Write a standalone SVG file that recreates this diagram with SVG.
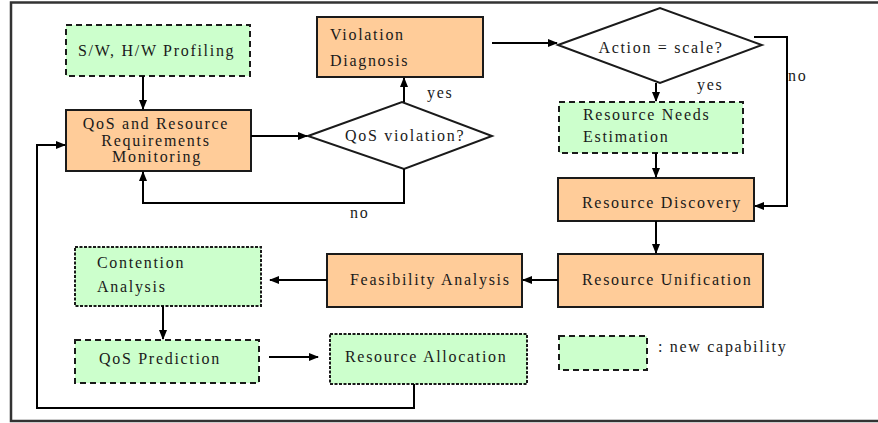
<svg xmlns="http://www.w3.org/2000/svg" width="878" height="423" viewBox="0 0 878 423">
<style>
text{font-family:"Liberation Serif","Times New Roman",serif;font-size:16px;fill:#1a1a1a;letter-spacing:1.7px}
.proc{fill:#ffcc99;stroke:#1a1a1a;stroke-width:2}
.new{fill:#ccffcc;stroke:#1a1a1a;stroke-width:2;stroke-dasharray:6,4}
.dot{fill:#ccffcc;stroke:#1a1a1a;stroke-width:2;stroke-dasharray:3,1.5}
.dec{fill:#fff;stroke:#1a1a1a;stroke-width:2}
.ln{fill:none;stroke:#000;stroke-width:2}
</style>
<defs>
<marker id="ah" markerWidth="10" markerHeight="8" refX="9" refY="4" orient="auto" markerUnits="userSpaceOnUse">
<path d="M0,0 L10,4 L0,8 z" fill="#000"/>
</marker>
</defs>
<rect width="878" height="423" fill="#fff"/>
<path d="M880 2.5 H11 V421 H880" fill="none" stroke="#333" stroke-width="2.5"/>

<g id="profiling">
<rect class="new" x="66" y="25" width="184" height="51"/>
<text x="78" y="56">S/W, H/W Profiling</text>
</g>
<g id="monitoring">
<rect class="proc" x="66" y="110" width="185" height="61"/>
<text x="156" y="129" text-anchor="middle">QoS and Resource</text>
<text x="156" y="146" text-anchor="middle">Requirements</text>
<text x="157" y="162" text-anchor="middle">Monitoring</text>
</g>
<g id="qos-violation">
<polygon class="dec" points="308,136 402,102 492,136 404,169"/>
<text x="345" y="141">QoS violation?</text>
</g>
<g id="violation-diagnosis">
<rect class="proc" x="317" y="17" width="166" height="60"/>
<text x="330" y="40">Violation</text>
<text x="330" y="66">Diagnosis</text>
</g>
<g id="action-scale">
<polygon class="dec" points="558,45 660,8 762,45 660,83"/>
<text x="661" y="53" text-anchor="middle">Action = scale?</text>
</g>
<g id="needs-estimation">
<rect class="new" x="559" y="102" width="184" height="51"/>
<text x="583" y="120">Resource Needs</text>
<text x="583" y="142">Estimation</text>
</g>
<g id="discovery">
<rect class="proc" x="558" y="178" width="196" height="43"/>
<text x="582" y="208">Resource Discovery</text>
</g>
<g id="unification">
<rect class="proc" x="558" y="254" width="205" height="53"/>
<text x="582" y="285">Resource Unification</text>
</g>
<g id="feasibility">
<rect class="proc" x="327" y="254" width="195" height="53"/>
<text x="350" y="285">Feasibility Analysis</text>
</g>
<g id="contention">
<rect class="dot" x="75" y="247" width="186" height="59"/>
<text x="97" y="268">Contention</text>
<text x="97" y="292">Analysis</text>
</g>
<g id="qos-prediction">
<rect class="new" x="75" y="340" width="184" height="43"/>
<text x="99" y="364">QoS Prediction</text>
</g>
<g id="allocation">
<rect class="dot" x="330" y="334" width="197" height="50"/>
<text x="345" y="362">Resource Allocation</text>
</g>
<g id="legend">
<rect class="new" x="559" y="336" width="88" height="34"/>
<text x="658" y="352">: new capability</text>
</g>

<g id="connectors">
<path class="ln" d="M143 76 V109" marker-end="url(#ah)"/>
<path class="ln" d="M251 136 H307" marker-end="url(#ah)"/>
<path class="ln" d="M404 102 V78" marker-end="url(#ah)"/>
<path class="ln" d="M404 169 V203 H143 V172" marker-end="url(#ah)"/>
<path class="ln" d="M492 43 H557" marker-end="url(#ah)"/>
<path class="ln" d="M656 83 V101" marker-end="url(#ah)"/>
<path class="ln" d="M754 37 H787 V206 H755" marker-end="url(#ah)"/>
<path class="ln" d="M656 153 V177" marker-end="url(#ah)"/>
<path class="ln" d="M656 221 V253" marker-end="url(#ah)"/>
<path class="ln" d="M558 280 H523" marker-end="url(#ah)"/>
<path class="ln" d="M327 280 H270" marker-end="url(#ah)"/>
<path class="ln" d="M163 306 V339" marker-end="url(#ah)"/>
<path class="ln" d="M269 357 H318" marker-end="url(#ah)"/>
<path class="ln" d="M414 384 V408 H37 V145 H65" marker-end="url(#ah)"/>
<text x="427" y="98">yes</text>
<text x="350" y="218">no</text>
<text x="697" y="90">yes</text>
<text x="788" y="81">no</text>
</g>
</svg>
